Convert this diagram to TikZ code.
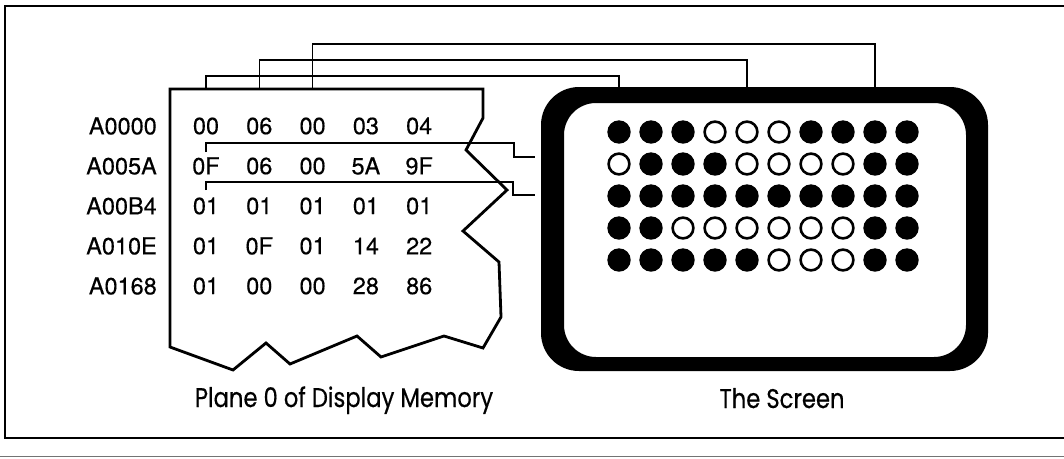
\documentclass[tikz,border=0pt]{standalone}
\usepackage{fontspec}
\newfontfamily\captionfont{Poppins}[FakeStretch=0.84, FakeBold=0.5]
\newfontfamily\cellfont{TeX Gyre Heros}[FakeBold=0.3]
\usetikzlibrary{positioning,calc}

\begin{document}
\begin{tikzpicture}[x=1pt, y=-1pt,
    cell/.style={font=\cellfont\fontsize{23.5}{23.5}\selectfont, inner sep=0pt},
    addr/.style={cell, anchor=east},
    caption/.style={font=\captionfont\fontsize{27}{27}\selectfont, inner sep=0pt, anchor=base},
    outline/.style={line width=2.8pt, line join=miter},
    wire/.style={line width=1.3pt},
    link/.style={line width=2.6pt},
    pixon/.style={fill=black},
    pixoff/.style={draw=black, line width=2.6pt, fill=white}]

  \useasboundingbox (0,0) rectangle (1064,458);

  % Frame
  \draw[line width=1.6pt] (1064,6) -- (5,6) -- (5,438) -- (1064,438);
  \draw[line width=0.8pt, black!55] (0,456) -- (1064,456);

  % Plane 0 of display memory
  \draw[outline] (170,89) -- (483,89) -- (483,118) -- (466,150) -- (507,190)
    -- (463,231) -- (499,262) -- (501,317) -- (483,348) -- (444,336)
    -- (381,357) -- (357,336) -- (290,364) -- (266,343) -- (233,370)
    -- (170,347) -- cycle;
  \coordinate (memtop) at (0,89);

  \foreach \r/\adr/\bytes in {1/A0000/{00,06,00,03,04},
                              2/A005A/{0F,06,00,5A,9F},
                              3/A00B4/{01,01,01,01,01},
                              4/A010E/{01,0F,01,14,22},
                              5/A0168/{01,00,00,28,86}} {
    \node[addr] (a-\r) at (157,{126+40*(\r-1)}) {\adr};
    \foreach \b [count=\c] in \bytes
      \node[cell] (c-\r-\c) at ({206+53.3*(\c-1)},{126+40*(\r-1)}) {\b};
  }

  % Screen
  \fill[even odd rule] [rounded corners=38pt] (541,87) rectangle (988,371)
    [rounded corners=32pt] (564,103) rectangle (966,357);
  \coordinate (scrtop) at (0,87);

  \foreach \row [count=\r] in {{1,1,1,0,0,0,1,1,1,1},
                               {0,1,1,1,0,0,0,0,1,1},
                               {1,1,1,1,1,1,1,1,1,1},
                               {1,1,0,0,0,0,0,0,1,1},
                               {1,1,1,1,1,0,0,0,1,1}} {
    \foreach \bit [count=\c] in \row {
      \coordinate (d-\r-\c) at ({619+32*(\c-1)},{132+32*(\r-1)});
      \ifnum\bit=1
        \fill[pixon] (d-\r-\c) circle (11.7);
      \else
        \draw[pixoff] (d-\r-\c) circle (10.4);
      \fi
    }
  }

  % Bytes to pixels
  \draw[wire] (c-1-1 |- memtop) -- ++(0,-13) -| (d-1-1 |- scrtop);
  \draw[wire] (c-1-2 |- memtop) -- ++(0,-29) -| (d-1-5 |- scrtop);
  \draw[wire] (c-1-3 |- memtop) -- ++(0,-45) -| (d-1-9 |- scrtop);

  % Row links
  \draw[link] ($(c-2-1)+(0,-14)$) |- (514,143) |- (535,157);
  \draw[link] ($(c-3-1)+(0,-16)$) |- (513,182) |- (535,195);

  % Captions
  \node[caption] (memcap) at (344,407) {Plane 0 of Display Memory};
  \node[caption] (scrcap) at (782,408) {The Screen};

\end{tikzpicture}
\end{document}
